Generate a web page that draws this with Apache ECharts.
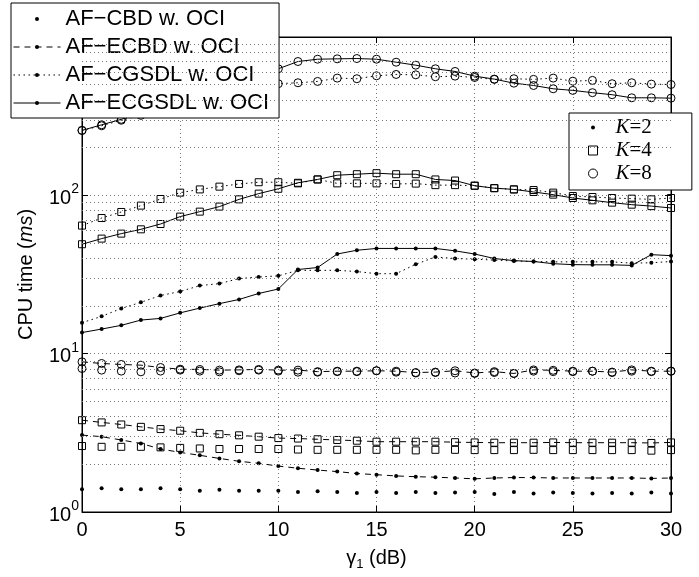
<!DOCTYPE html>
<html><head><meta charset="utf-8">
<script src="https://cdn.jsdelivr.net/npm/echarts@6/dist/echarts.min.js"></script>
<style>html,body{margin:0;padding:0;background:#fff}#c{width:699px;height:577px}</style>
</head><body><div id="c"></div>
<script>
const gamma = [0,1,2,3,4,5,6,7,8,9,10,11,12,13,14,15,16,17,18,19,20,21,22,23,24,25,26,27,28,29,30];
const xTicks = [0,5,10,15,20,25,30];
const yMinorTicks = [2,3,4,5,6,7,8,9,20,30,40,50,60,70,80,90,200,300,400,500,600,700,800,900];

// K = 2
const cbdK2    = [1.39,1.41,1.39,1.39,1.41,1.39,1.36,1.38,1.36,1.36,1.36,1.34,1.35,1.34,1.32,1.34,1.32,1.34,1.32,1.33,1.34,1.30,1.34,1.31,1.33,1.32,1.31,1.32,1.31,1.33,1.31];
const ecbdK2   = [3.06,2.99,2.85,2.71,2.50,2.38,2.28,2.18,2.09,2.03,1.95,1.89,1.84,1.80,1.75,1.72,1.69,1.67,1.66,1.64,1.62,1.64,1.65,1.65,1.64,1.64,1.64,1.64,1.64,1.63,1.64];
const cgsdlK2  = [15.7,17.2,19.3,21.1,23.3,24.7,26.9,27.7,29.8,30.5,31.0,33.6,33.6,33.6,33.0,32.0,32.0,36.7,40.8,39.9,39.5,39.0,38.5,38.2,38.0,38.0,38.0,38.0,37.3,37.5,38.2];
const ecgsdlK2 = [13.6,14.3,15.1,16.3,16.7,18.1,19.4,20.7,22.0,24.0,25.6,34.0,35.0,42.6,45.0,46.2,46.2,46.2,46.2,44.6,42.6,39.9,38.7,38.2,37.0,36.5,36.4,36.4,36.1,42.2,41.6];
// K = 4
const cbdK4    = [2.61,2.58,2.58,2.58,2.56,2.54,2.52,2.50,2.50,2.50,2.50,2.48,2.47,2.47,2.47,2.47,2.47,2.45,2.47,2.47,2.46,2.46,2.46,2.47,2.46,2.46,2.46,2.46,2.46,2.44,2.46];
const ecbdK4   = [3.80,3.68,3.57,3.45,3.34,3.26,3.16,3.10,3.05,2.99,2.93,2.91,2.88,2.85,2.82,2.78,2.78,2.78,2.78,2.76,2.75,2.74,2.74,2.74,2.75,2.74,2.74,2.74,2.74,2.73,2.75];
const cgsdlK4  = [64.4,71.9,78.5,86.1,94.8,104,109,113.5,118,121,121,119,126,119,119,119,118,118.6,116,116,115,111,109,108,104,99,97.6,96.2,95.3,94.3,96.2];
const ecgsdlK4 = [49.1,53.3,57.3,61.0,65.9,73.4,78.9,84.9,94.3,102.5,110,120,126,134,136,138,136,136,126,124,115,111,109,105,101,96.2,93,89.9,87.3,85.5,83.2];
// K = 8
const cbdK8    = [8.06,7.87,7.76,7.68,7.76,7.87,7.76,7.68,7.80,7.87,7.76,7.64,7.64,7.70,7.70,7.80,7.64,7.55,7.60,7.55,7.50,7.60,7.50,7.75,7.70,7.70,7.75,7.60,7.75,7.70,7.75];
const ecbdK8   = [8.88,8.67,8.55,8.46,8.18,7.98,7.95,7.87,7.90,7.95,7.87,7.87,7.70,7.75,7.75,7.80,7.75,7.60,7.65,7.80,7.55,7.70,7.50,7.90,7.85,7.75,7.75,7.65,7.90,7.75,7.75];
const cgsdlK8  = [257,275,298,320,350,380,410,440,465,490,507,514,524,550,545,569,580,577,561,566,555,540,545,540,550,526,532,507,514,504,501];
const ecgsdlK8 = [257,279,302,330,370,410,460,510,560,600,630,700,724,728,731,724,693,664,630,606,566,542,511,494,471,460,445,432,413,413,411];

const methodNames = ['AF\u2212CBD w. OCI','AF\u2212ECBD w. OCI','AF\u2212CGSDL w. OCI','AF\u2212ECGSDL w. OCI'];
const kNames = ['K=2','K=4','K=8'];

const FONT = 'Liberation Sans';
const lineTypes = [null, [6,5], [1.5,3.5], 'solid'];
const markerSpecs = {
  dot:    {symbol:'circle', symbolSize:4, itemStyle:{color:'#000', borderWidth:0}},
  square: {symbol:'rect', symbolSize:7, itemStyle:{color:'rgba(0,0,0,0)', borderColor:'#000', borderWidth:1}},
  circle: {symbol:'circle', symbolSize:8, itemStyle:{color:'rgba(0,0,0,0)', borderColor:'#000', borderWidth:1}}
};
function pairs(vals){ return gamma.map((g,i)=>[g, vals[i]]); }
function mk(name, vals, marker, methodIdx){
  const m = markerSpecs[marker];
  const lt = lineTypes[methodIdx];
  return {
    name: name, type:'line', data: pairs(vals),
    symbol: m.symbol, symbolSize: m.symbolSize, showAllSymbol: true,
    itemStyle: m.itemStyle,
    lineStyle: lt === null ? {width:0, color:'#000'} : {width:1, color:'#000', type: lt},
    z: 3, silent: true
  };
}
const dataSeries = [
  mk('cbdK2', cbdK2, 'dot', 0), mk('ecbdK2', ecbdK2, 'dot', 1), mk('cgsdlK2', cgsdlK2, 'dot', 2), mk('ecgsdlK2', ecgsdlK2, 'dot', 3),
  mk('cbdK4', cbdK4, 'square', 0), mk('ecbdK4', ecbdK4, 'square', 1), mk('cgsdlK4', cgsdlK4, 'square', 2), mk('ecgsdlK4', ecgsdlK4, 'square', 3),
  mk('cbdK8', cbdK8, 'circle', 0), mk('ecbdK8', ecbdK8, 'circle', 1), mk('cgsdlK8', cgsdlK8, 'circle', 2), mk('ecgsdlK8', ecgsdlK8, 'circle', 3)
];
// minor log grid lines attached to the first series
dataSeries[0].markLine = {
  silent: true, symbol: ['none','none'], label:{show:false}, animation:false,
  lineStyle:{type:[1,3], color:'#777', width:1},
  emphasis:{disabled:true},
  data: yMinorTicks.map(v => ({yAxis: v}))
};
// legend-only series
const legendSeries = methodNames.map((n, i) => ({
  name: n, type:'line', data: [], symbol:'circle', symbolSize:4,
  itemStyle:{color:'#000'},
  lineStyle: lineTypes[i] === null ? {width:0, color:'#000'} : {width:1, color:'#000', type: lineTypes[i]}
})).concat(kNames.map(n => ({name:n, type:'line', data:[], symbol:'circle', itemStyle:{color:'#000'}, lineStyle:{width:0}})));

const axisCommonX = {
  type:'value', min:0, max:30, interval:5,
  axisLine:{show:true, onZero:false, lineStyle:{color:'#000', width:1}},
  axisTick:{show:true, inside:true, length:6, lineStyle:{color:'#000', width:1}},
};
const axisCommonY = {
  type:'log', logBase:10, min:1, max:1000,
  axisLine:{show:true, onZero:false, lineStyle:{color:'#000', width:1}},
  axisTick:{show:true, inside:true, length:6, lineStyle:{color:'#000', width:1}},
};

const option = {
  animation:false,
  backgroundColor:'#fff',
  grid:{left:82, right:28, top:37, bottom:65, show:true, borderColor:'#000', borderWidth:1, backgroundColor:'#fff'},
  xAxis:[
    Object.assign({}, axisCommonX, {
      position:'bottom',
      axisLabel:{color:'#000', fontSize:20, fontFamily:FONT, margin:8},
      splitLine:{show:true, lineStyle:{type:[1,3], color:'#777', width:1}},
      name:'{g|\u03b3}{s|1}{t| (dB)}', nameLocation:'middle', nameGap:34,
      nameTextStyle:{color:'#000', rich:{
        g:{fontSize:20, fontFamily:FONT, color:'#000'},
        s:{fontSize:13, fontFamily:FONT, color:'#000', padding:[12,0,0,0]},
        t:{fontSize:20, fontFamily:FONT, color:'#000'}
      }}
    }),
    Object.assign({}, axisCommonX, {position:'top', axisLabel:{show:false}, splitLine:{show:false}})
  ],
  yAxis:[
    Object.assign({}, axisCommonY, {
      position:'left',
      axisLabel:{color:'#000', margin:3, formatter: v => '{b|10}{s|' + Math.round(Math.log10(v)) + '}',
        rich:{ b:{fontSize:20, fontFamily:FONT, color:'#000', padding:[6,0,0,0]}, s:{fontSize:14, fontFamily:FONT, color:'#000', padding:[0,0,12,0]} }},
      splitLine:{show:true, lineStyle:{type:[1,3], color:'#777', width:1}},
      minorTick:{show:false},
      name:'CPU time ({i|ms})', nameLocation:'middle', nameGap:46, nameRotate:90,
      nameTextStyle:{color:'#000', fontSize:20, fontFamily:FONT, rich:{ i:{fontSize:20, fontFamily:FONT, fontStyle:'italic', color:'#000'} }}
    }),
    Object.assign({}, axisCommonY, {position:'right', axisLabel:{show:false}, splitLine:{show:false}})
  ],
  legend:[
    {
      left:11, top:3, orient:'vertical', align:'left',
      backgroundColor:'#fff', borderColor:'#000', borderWidth:1,
      padding:[5,10,4,2], itemGap:6, itemWidth:47, itemHeight:5,
      selectedMode:false,
      textStyle:{color:'#000', fontSize:22, fontFamily:FONT, lineHeight:22},
      data: methodNames.map((n,i) => ({
        name:n,
        itemStyle:{color:'#000', borderWidth:0},
        lineStyle: lineTypes[i] === null ? {width:0, color:'#000'} : {width:1, color:'#000', type: lineTypes[i]}
      }))
    },
    {
      left:569, top:113, orient:'vertical', align:'left',
      backgroundColor:'#fff', borderColor:'#000', borderWidth:1,
      padding:[4,40,6,17], itemGap:2, itemWidth:9, itemHeight:9,
      selectedMode:false, symbolKeepAspect:true,
      formatter: n => '{k|K}{e|' + n.slice(1) + '}',
      textStyle:{color:'#000', fontSize:20, lineHeight:18, rich:{
        k:{fontFamily:'Liberation Serif', fontStyle:'italic', fontSize:21, lineHeight:20, color:'#000', padding:[0,0,0,13]},
        e:{fontFamily:'Liberation Serif', fontSize:21, lineHeight:20, color:'#000'}
      }},
      data:[
        {name:kNames[0], icon:'circle', itemStyle:{color:'#000', borderColor:'#fff', borderWidth:5}},
        {name:kNames[1], icon:'rect', itemStyle:{color:'#fff', borderColor:'#000', borderWidth:1}},
        {name:kNames[2], icon:'circle', itemStyle:{color:'#fff', borderColor:'#000', borderWidth:1}}
      ]
    }
  ],
  series: dataSeries.concat(legendSeries)
};
const chart = echarts.init(document.getElementById('c'), null, {renderer:'canvas'});
chart.setOption(option);
</script>
</body></html>
